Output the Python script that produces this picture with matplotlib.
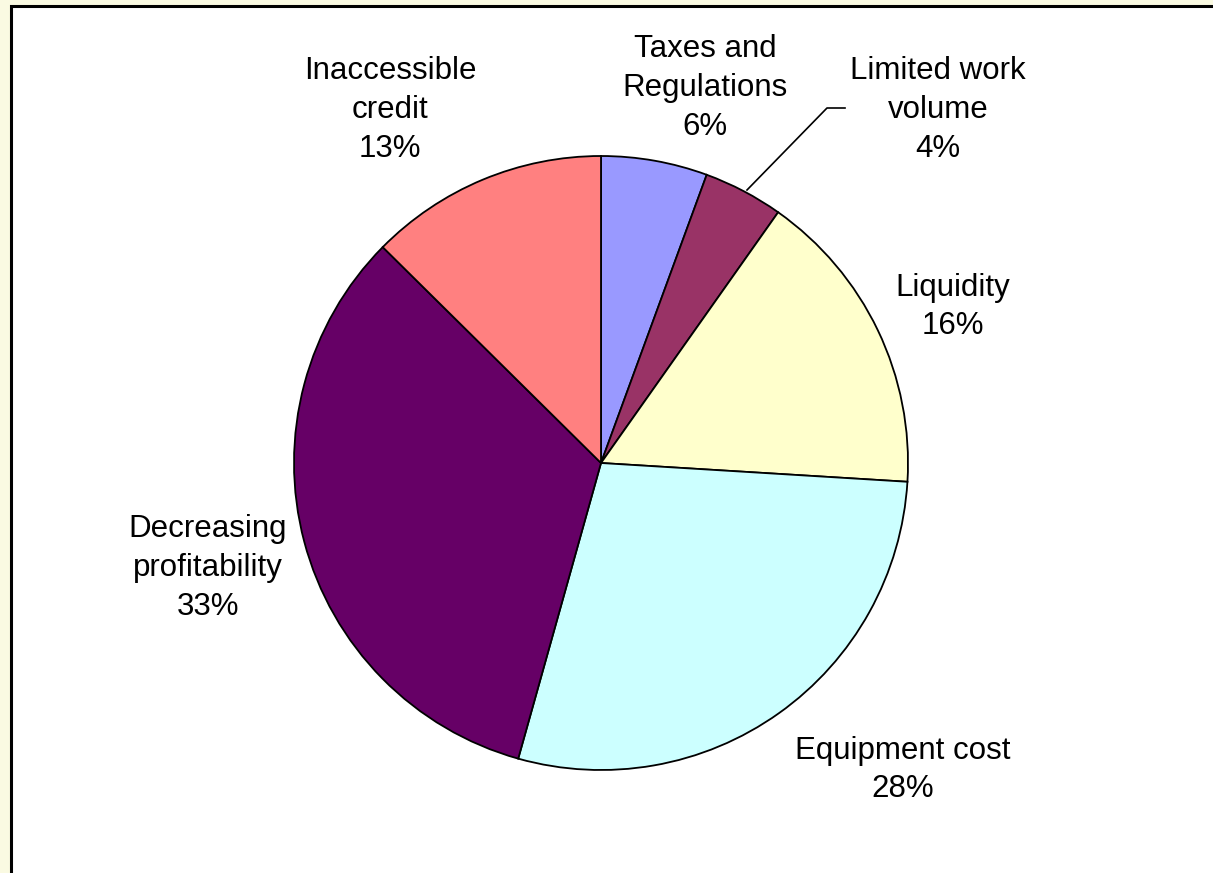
import matplotlib.pyplot as plt
from matplotlib.patches import Rectangle

plt.rcParams['font.family'] = ['Liberation Sans', 'DejaVu Sans']

# slice shares (clockwise from 12 o'clock)
categories = ["Taxes and\nRegulations", "Limited work\nvolume", "Liquidity",
              "Equipment cost", "Decreasing\nprofitability", "Inaccessible\ncredit"]
values = [5.6, 4.2, 16.2, 28.4, 33.1, 12.6]
colors = ["#9999FF", "#993366", "#FFFFCC", "#CCFFFF", "#660066", "#FF8080"]

# label centres in pixels (x, y from top)
label_pos = [(705, 88), (938, 110), (953, 307), (903, 770), (208, 568), (390, 110)]

W, H = 1213, 873
fig = plt.figure(figsize=(W / 100, H / 100), dpi=100, facecolor="#FAFAE2")
ax = fig.add_axes([0, 0, 1, 1])
ax.set_facecolor("none")

# white plot box, its right and bottom edges run off the picture
ax.add_patch(Rectangle((11, -20), W + 20, H + 20 - 6, facecolor="white",
                       edgecolor="black", linewidth=2.2, zorder=0))

cx, cy, r = 601, H - 463, 307
ax.pie(values, colors=colors, startangle=90, counterclock=False,
       center=(cx, cy), radius=r, frame=True,
       wedgeprops=dict(edgecolor="black", linewidth=1.3))

total = sum(values)
for name, v, (lx, ly) in zip(categories, values, label_pos):
    ax.text(lx, H - ly, f"{name}\n{v / total * 100:.0f}%", ha="center", va="center",
            fontsize=22.5, linespacing=1.38, color="black")

# leader line for the small slice
ax.plot([747, 827, 845], [H - 190, H - 108, H - 108], color="black", linewidth=1.2)

ax.set_xlim(0, W)
ax.set_ylim(0, H)
ax.set_aspect("auto")
ax.axis("off")

plt.savefig("out.png", dpi=100, facecolor=fig.get_facecolor())
